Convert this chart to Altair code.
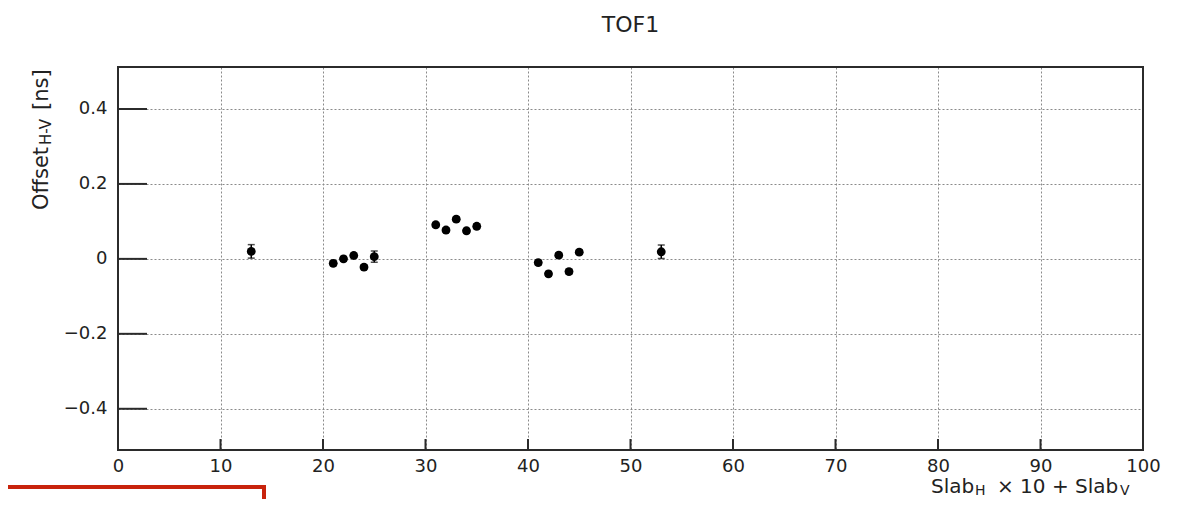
import altair as alt
import pandas as pd

# ---- data ----
slab = [13, 21, 22, 23, 24, 25, 31, 32, 33, 34, 35, 41, 42, 43, 44, 45, 53]
offset = [0.020, -0.012, 0.000, 0.009, -0.022, 0.006,
          0.091, 0.077, 0.106, 0.075, 0.087,
          -0.010, -0.040, 0.010, -0.034, 0.018, 0.019]
error = [0.018, 0.006, 0.006, 0.006, 0.006, 0.015,
         0.006, 0.006, 0.006, 0.006, 0.006,
         0.006, 0.006, 0.006, 0.006, 0.006, 0.018]

x_ticks = [0, 10, 20, 30, 40, 50, 60, 70, 80, 90, 100]
y_ticks = [-0.4, -0.2, 0, 0.2, 0.4]

W, H = 1025, 383
FONT = "DejaVu Sans"
FRAME = "#2b2b2b"
TXT = "#222222"

df = pd.DataFrame({"x": slab, "y": offset, "err": error})
df["lo"] = df["y"] - df["err"]
df["hi"] = df["y"] + df["err"]

xscale = alt.Scale(domain=[0, 100], nice=False, zero=False)
yscale = alt.Scale(domain=[-0.51, 0.512], nice=False, zero=False)

xaxis = alt.Axis(values=x_ticks, title=None, ticks=False, domain=False,
                 grid=True, gridColor="#8a8a8a", gridDash=[2, 2], gridWidth=1,
                 labelFont=FONT, labelFontSize=18, labelColor=TXT,
                 labelPadding=7, labelFlush=False)
yaxis = alt.Axis(values=y_ticks, title=None, ticks=False, domain=False, format="~g",
                 grid=True, gridColor="#8a8a8a", gridDash=[2, 2], gridWidth=1,
                 labelFont=FONT, labelFontSize=18, labelColor=TXT,
                 labelPadding=11, labelFlush=False)

X = alt.X("x:Q", scale=xscale, axis=xaxis)
Y = alt.Y("y:Q", scale=yscale, axis=yaxis)

points = alt.Chart(df).mark_circle(size=78, color="black", opacity=1).encode(x=X, y=Y)

bars = alt.Chart(df).mark_rule(color="black", strokeWidth=1.5).encode(
    x=X, y=alt.Y("lo:Q", scale=yscale), y2="hi:Q")
cap_lo = alt.Chart(df).mark_tick(color="black", orient="horizontal", size=7, thickness=1.5).encode(
    x=X, y=alt.Y("lo:Q", scale=yscale))
cap_hi = alt.Chart(df).mark_tick(color="black", orient="horizontal", size=7, thickness=1.5).encode(
    x=X, y=alt.Y("hi:Q", scale=yscale))

# inward ROOT-style ticks
ytk = alt.Chart(pd.DataFrame({"y": y_ticks})).mark_rule(color=FRAME, strokeWidth=2).encode(
    y=Y, x=alt.value(0), x2=alt.value(29))
xtk = alt.Chart(pd.DataFrame({"x": x_ticks})).mark_rule(color=FRAME, strokeWidth=2).encode(
    x=X, y=alt.value(H), y2=alt.value(H - 11))

one = pd.DataFrame({"a": [0]})

# plot frame
frame = alt.Chart(one).mark_rect(fill=None, fillOpacity=0, stroke=FRAME, strokeWidth=2).encode(
    x=alt.value(0), x2=alt.value(W), y=alt.value(0), y2=alt.value(H))


def txt(s, x, y, size=21, angle=0, align="left", baseline="alphabetic"):
    kw = dict(text=s, font=FONT, fontSize=size, color=TXT, align=align, baseline=baseline)
    if angle:
        kw["angle"] = angle
    return alt.Chart(one).mark_text(**kw).encode(x=alt.value(x), y=alt.value(y))


title = txt("TOF1", W / 2, -42, size=22, align="center", baseline="middle")

# y-axis title: Offset_{H-V} [ns]
yt1 = txt("Offset", -70, 143, size=21, angle=270)
yt2 = txt("H-V", -67, 78, size=15, angle=270)
yt3 = txt("[ns]", -70, 43, size=21, angle=270)

# x-axis title: Slab_H x 10 + Slab_V
xt1 = txt("Slab", 813, 426, size=20)
xt2 = txt("H", 857, 428, size=14)
xt3 = txt("× 10 + Slab", 879, 426, size=20)
xt4 = txt("V", 1002, 428, size=14)

# red annotation line at the bottom left
red_h = alt.Chart(one).mark_rule(color="#c8230c", strokeWidth=4).encode(
    x=alt.value(-120), x2=alt.value(148), y=alt.value(420))
red_v = alt.Chart(one).mark_rule(color="#c8230c", strokeWidth=4).encode(
    x=alt.value(146), y=alt.value(418), y2=alt.value(445))

chart = alt.layer(
    points, bars, cap_lo, cap_hi, ytk, xtk, frame,
    title, yt1, yt2, yt3, xt1, xt2, xt3, xt4, red_h, red_v
).properties(
    width=W, height=H,
    autosize=alt.AutoSizeParams(type="none"),
    padding={"left": 110, "top": 59, "right": 30, "bottom": 49},
).configure_view(
    stroke=None
).configure(background="white")

chart.save("out.html", embed_options={"renderer": "svg", "actions": False})
